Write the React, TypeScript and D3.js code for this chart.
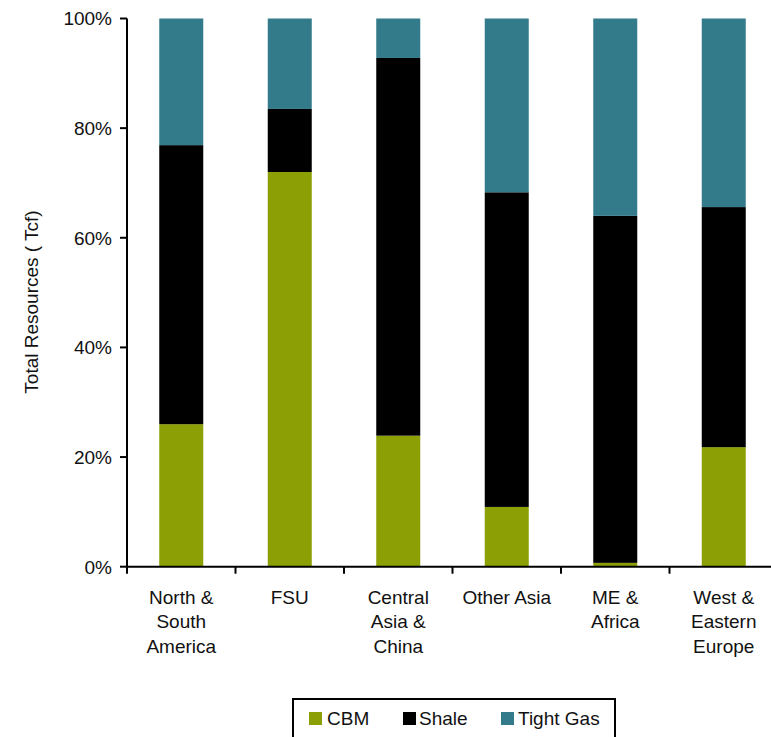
import React from "react";
import * as d3 from "d3";

const categories: string[][] = [
  ["North &", "South", "America"],
  ["FSU"],
  ["Central", "Asia &", "China"],
  ["Other Asia"],
  ["ME &", "Africa"],
  ["West &", "Eastern", "Europe"],
];
const cbm = [26.0, 72.0, 23.9, 10.9, 0.7, 21.8];
const shale = [50.9, 11.5, 68.9, 57.4, 63.3, 43.8];
const tightGas = [23.1, 16.5, 7.2, 31.7, 36.0, 34.4];
const yTicks = [0, 20, 40, 60, 80, 100];

const seriesNames = ["CBM", "Shale", "Tight Gas"];
const colors = ["#8c9f04", "#000000", "#337a8a"];

export default function App() {
  const W = 771, H = 737;
  const left = 127, right = 778, top = 18.5, bottom = 566.7;
  const keys = categories.map((c) => c.join(" "));
  const x = d3.scaleBand<string>().domain(keys).range([left, right]).paddingInner(0.5945).paddingOuter(0.29725);
  const step = x.step();
  const y = d3.scaleLinear().domain([0, 100]).range([bottom, top]);
  const rows = keys.map((k, i) => ({ key: k, CBM: cbm[i], Shale: shale[i], "Tight Gas": tightGas[i] }));
  const stack = d3.stack<any>().keys(seriesNames)(rows);
  const font = "'Liberation Sans', Arial, sans-serif";
  const fs = 19;

  const legendItems = [
    { x: 309, tx: 327 },
    { x: 403, tx: 419 },
    { x: 501, tx: 518 },
  ];

  return (
    <div style={{ position: "absolute", left: 0, top: 0 }}>
      <svg width={W} height={H} style={{ display: "block", fontFamily: font }}>
        <rect width={W} height={H} fill="#fff" />
        {stack.map((s, si) => (
          <g key={si} fill={colors[si]}>
            {s.map((d, i) => (
              <rect key={i} x={x(keys[i])} width={x.bandwidth()} y={y(d[1])} height={y(d[0]) - y(d[1])} />
            ))}
          </g>
        ))}
        {/* y axis */}
        <line x1={left} x2={left} y1={top} y2={bottom} stroke="#000" strokeWidth={2} />
        {yTicks.map((t) => (
          <g key={t}>
            <line x1={left - 7} x2={left} y1={y(t)} y2={y(t)} stroke="#000" strokeWidth={2} />
            <text x={112} y={y(t)} dy="0.36em" textAnchor="end" fontSize={fs} fill="#111">
              {t}%
            </text>
          </g>
        ))}
        {/* x axis */}
        <line x1={left - 1} x2={right} y1={bottom} y2={bottom} stroke="#000" strokeWidth={2} />
        {d3.range(keys.length + 1).map((i) => (
          <line key={i} x1={left + i * step} x2={left + i * step} y1={bottom} y2={bottom + 7} stroke="#000" strokeWidth={2} />
        ))}
        {categories.map((lines, i) => (
          <text key={i} textAnchor="middle" fontSize={fs} fill="#111">
            {lines.map((l, j) => (
              <tspan key={j} x={(x(keys[i]) as number) + x.bandwidth() / 2} y={603.5 + j * 24.5}>
                {l}
              </tspan>
            ))}
          </text>
        ))}
        <text transform={`translate(38,302) rotate(-90)`} textAnchor="middle" fontSize={fs} fill="#111">
          Total Resources ( Tcf)
        </text>
        {/* legend */}
        <rect x={293} y={699} width={322} height={50} fill="none" stroke="#000" strokeWidth={2} />
        {seriesNames.map((n, i) => (
          <g key={n}>
            <rect x={legendItems[i].x} y={712} width={13} height={13} fill={colors[i]} />
            <text x={legendItems[i].tx} y={718.5} dy="0.36em" fontSize={fs} fill="#111">
              {n}
            </text>
          </g>
        ))}
      </svg>
    </div>
  );
}
